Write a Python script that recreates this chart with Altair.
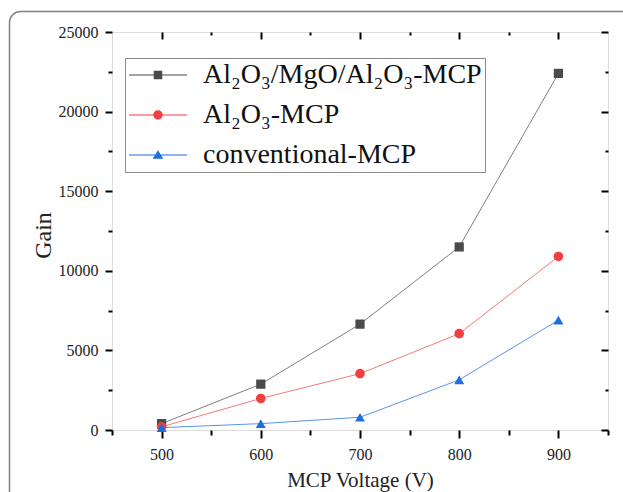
import altair as alt
import pandas as pd

# MCP gain measured against applied voltage for three channel-plate coatings
voltages = [500, 600, 700, 800, 900]
series_names = ["Al₂O₃/MgO/Al₂O₃-MCP", "Al₂O₃-MCP", "conventional-MCP"]
gain_trilayer = [400, 2880, 6650, 11500, 22400]
gain_al2o3 = [200, 1980, 3540, 6050, 10900]
gain_conventional = [150, 400, 800, 3150, 6900]

marker_colors = ["#4a4a4a", "#f23f3f", "#1c6fe0"]
line_colors = ["#7f7f7f", "#f47a7a", "#5a94ea"]
marker_shapes = ["square", "circle", "triangle-up"]
marker_sizes = [85, 100, 130]

x_ticks = list(range(450, 951, 50))
y_ticks = list(range(0, 25001, 2500))

rows = []
for name, gains in zip(series_names, [gain_trilayer, gain_al2o3, gain_conventional]):
    for v, g in zip(voltages, gains):
        rows.append({"series": name, "voltage": v, "gain": g})
df = pd.DataFrame(rows)

W, H = 496, 398
serif = "Liberation Serif"

x_scale = alt.Scale(domain=[450, 950], nice=False, zero=False)
y_scale = alt.Scale(domain=[0, 25000], nice=False)

# legend glyphs: a short line segment with the series marker in its middle
seg = "M-5.8,-0.1H5.8V0.1H-5.8Z "
legend_glyphs = [
    seg + "M-0.85,-0.85H0.85V0.85H-0.85Z",
    seg + "M-0.93,0A0.93,0.93,0,1,1,0.93,0A0.93,0.93,0,1,1,-0.93,0Z",
    seg + "M0,-0.95L1.07,0.75H-1.07Z",
]

major_x = "datum.value % 100 === 0"
major_y = "datum.value % 5000 === 0"

base = alt.Chart(df)

lines = base.mark_line(strokeWidth=1).encode(
    x=alt.X("voltage:Q", scale=x_scale, axis=alt.Axis(
        orient="bottom", values=x_ticks, domain=False, grid=False,
        tickColor="black", tickWidth=2,
        tickSize={"condition": {"test": major_x, "value": 8}, "value": 5},
        labelExpr="datum.value % 100 === 0 && datum.value >= 500 && datum.value <= 900 ? datum.label : ''",
        labelFont=serif, labelFontSize=16, labelColor="#222", labelPadding=8,
        labelOverlap=False, labelFlush=False,
        title="MCP Voltage (V)", titleFont=serif, titleFontSize=21,
        titleFontWeight="normal", titleColor="#222",
        titleX=W / 2, titleY=50, titleBaseline="middle")),
    y=alt.Y("gain:Q", scale=y_scale, axis=alt.Axis(
        orient="left", values=y_ticks, domain=False, grid=False,
        tickColor="black", tickWidth=2,
        tickSize={"condition": {"test": major_y, "value": 7}, "value": 4},
        labelExpr="datum.value % 5000 === 0 ? datum.label : ''", format="d",
        labelFont=serif, labelFontSize=16, labelColor="#222", labelPadding=7,
        labelOverlap=False, labelFlush=False,
        title="Gain", titleFont=serif, titleFontSize=24,
        titleFontWeight="normal", titleColor="#222",
        titleX=-69, titleY=H / 2 + 4, titleBaseline="middle")),
    color=alt.Color("series:N", scale=alt.Scale(domain=series_names, range=line_colors), legend=None),
    detail="series:N",
)

points = base.mark_point(filled=True, opacity=1).encode(
    x=alt.X("voltage:Q", scale=x_scale, axis=alt.Axis(
        orient="top", values=voltages, domain=False, grid=False, labels=False,
        tickColor="black", tickWidth=2, tickSize=7, offset=-7, title=None)),
    y=alt.Y("gain:Q", scale=y_scale, axis=alt.Axis(
        orient="right", values=list(range(0, 25001, 5000)), domain=False, grid=False,
        labels=False, tickColor="black", tickWidth=2, tickSize=7, offset=-7, title=None)),
    color=alt.Color("series:N", scale=alt.Scale(domain=series_names, range=marker_colors), legend=None),
    shape=alt.Shape("series:N", scale=alt.Scale(domain=series_names, range=marker_shapes), legend=None),
    size=alt.Size("series:N", scale=alt.Scale(domain=series_names, range=marker_sizes), legend=None),
)

legend_props = dict(
    orient="none", legendX=13, legendY=26, title=None,
    labelFont=serif, labelFontSize=28, labelColor="#111", labelLimit=0,
    symbolSize=100, symbolOffset=16, labelOffset=31,
    symbolStrokeWidth=0, symbolOpacity=1,
    padding=3, rowPadding=12,
    strokeColor="#8a8a8a", fillColor="white",
)

# legend-only layer: no rows are drawn, the scales carry the entries
legend_layer = base.mark_point(filled=True, opacity=1).encode(
    x=alt.X("voltage:Q", scale=x_scale, axis=alt.Axis(
        orient="top", values=[550, 650, 750, 850], domain=False, grid=False, labels=False,
        tickColor="black", tickWidth=2, tickSize=3, offset=-3, title=None)),
    y=alt.Y("gain:Q", scale=y_scale, axis=alt.Axis(
        orient="right", values=list(range(2500, 25000, 5000)), domain=False, grid=False,
        labels=False, tickColor="black", tickWidth=2, tickSize=3, offset=-3, title=None)),
    color=alt.Color("series:N", scale=alt.Scale(domain=series_names, range=marker_colors),
                    legend=alt.Legend(**legend_props)),
    shape=alt.Shape("series:N", scale=alt.Scale(domain=series_names, range=legend_glyphs),
                    legend=alt.Legend(**legend_props)),
).transform_filter("false")

# rounded outer frame of the figure
frame = alt.Chart(pd.DataFrame({"k": [0]})).mark_rect(
    fill=None, stroke="#808080", strokeWidth=1.5, cornerRadius=11, clip=False
).encode(
    x=alt.value(-102.5), y=alt.value(-20.5), x2=alt.value(720), y2=alt.value(620)
)

chart = alt.layer(frame, lines, points, legend_layer).resolve_scale(
    color="independent", shape="independent"
).resolve_axis(
    x="independent", y="independent"
).properties(
    width=W, height=H,
    autosize=alt.AutoSizeParams(type="none"),
    padding={"left": 112, "top": 32, "right": 15, "bottom": 62},
).configure_view(
    stroke="black", strokeWidth=2.5
).configure(background="white")

chart.save("out.html", embed_options={"renderer": "svg", "actions": False})
